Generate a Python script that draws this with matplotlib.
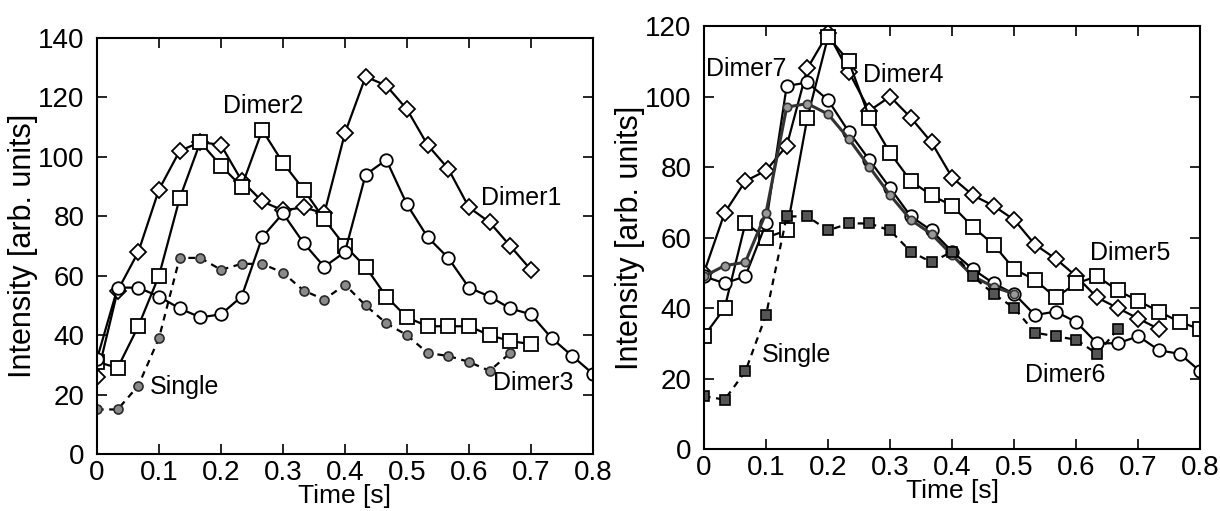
import numpy as np
import matplotlib.pyplot as plt

plt.rcParams['font.family'] = ['Liberation Sans', 'DejaVu Sans']

# 時間軸: 1/30 s ごと
dt = 1.0 / 30

# 左のグラフ
dimer1 = [26, 55, 68, 89, 102, 105, 104, 92, 85, 82, 83, 81, 108, 127, 124, 116,
          104, 96, 83, 78, 70, 62]
dimer2 = [31, 29, 43, 60, 86, 105, 97, 90, 109, 98, 89, 79, 70, 63, 53, 46, 43, 43,
          43, 40, 38, 37]
dimer3 = [32, 56, 56, 53, 49, 46, 47, 53, 73, 81, 71, 63, 68, 94, 99, 84, 73, 66,
          56, 53, 49, 47, 39, 33, 27]
single = [15, 15, 23, 39, 66, 66, 62, 64, 64, 61, 55, 52, 57, 50, 44, 40, 34, 33,
          31, 28, 34]

# 右のグラフ
dimer4 = [50, 67, 76, 79, 86, 108, 118, 107, 96, 100, 94, 87, 77, 72, 69, 65, 58,
          54, 49, 43, 40, 37, 34]
dimer5 = [32, 40, 64, 60, 62, 94, 117, 110, 94, 84, 76, 72, 69, 63, 58, 51, 48, 43,
          47, 49, 45, 42, 39, 36, 34]
dimer6 = [49, 47, 49, 64, 103, 104, 99, 90, 82, 74, 66, 62, 56, 51, 47, 44, 38, 39,
          36, 30, 30, 32, 28, 27, 22]
dimer7 = [49, 52, 53, 67, 97, 98, 95, 88, 80, 72, 65, 61, 55, 49, 46, 44]
single_r = [15, 14, 22, 38, 66, 66, 62, 64, 64, 62, 56, 53, 56, 49, 44, 40, 33, 32,
            31, 27, 34]

xticks = [0, 0.1, 0.2, 0.3, 0.4, 0.5, 0.6, 0.7, 0.8]
xticklabels = ['0', '0.1', '0.2', '0.3', '0.4', '0.5', '0.6', '0.7', '0.8']


def tt(v):
    return np.arange(len(v)) * dt


fs = 18
fig = plt.figure(figsize=(12.2, 5.11), dpi=100)
ax1 = fig.add_axes([0.0795, 0.1115, 0.4065, 0.8141])
ax2 = fig.add_axes([0.577, 0.1213, 0.407, 0.8277])

lw = 1.6
ax1.plot(tt(dimer1), dimer1, '-', color='k', lw=lw, marker='D', ms=8, mfc='white', mec='k', mew=1.3)
ax1.plot(tt(dimer2), dimer2, '-', color='k', lw=lw, marker='s', ms=9.5, mfc='white', mec='k', mew=1.3)
ax1.plot(tt(dimer3), dimer3, '-', color='k', lw=lw, marker='o', ms=9, mfc='white', mec='k', mew=1.3)
ax1.plot(tt(single), single, '--', color='k', lw=lw, dashes=(3, 2.5), marker='o', ms=6.5,
         mfc='#8a8a8a', mec='#2a2a2a', mew=1.2)

ax2.plot(tt(dimer4), dimer4, '-', color='k', lw=lw, marker='D', ms=8, mfc='white', mec='k', mew=1.3)
ax2.plot(tt(dimer5), dimer5, '-', color='k', lw=lw, marker='s', ms=9.5, mfc='white', mec='k', mew=1.3)
ax2.plot(tt(dimer6), dimer6, '-', color='k', lw=lw, marker='o', ms=9, mfc='white', mec='k', mew=1.3)
ax2.plot(tt(dimer7), dimer7, '-', color='#333333', lw=lw + 0.6, marker='o', ms=6,
         mfc='#999999', mec='#333333', mew=1.2)
ax2.plot(tt(single_r), single_r, '--', color='k', lw=lw, dashes=(3, 2.5), marker='s', ms=7,
         mfc='#555555', mec='k', mew=1.2)

ax1.text(0.268, 117, 'Dimer2', fontsize=fs, ha='center', va='center')
ax1.text(0.62, 86, 'Dimer1', fontsize=fs, ha='left', va='center')
ax1.text(0.086, 22.4, 'Single', fontsize=fs, ha='left', va='center')
ax1.text(0.639, 24, 'Dimer3', fontsize=fs, ha='left', va='center')

ax2.text(0.004, 107.7, 'Dimer7', fontsize=fs, ha='left', va='center')
ax2.text(0.256, 106, 'Dimer4', fontsize=fs, ha='left', va='center')
ax2.text(0.622, 55.5, 'Dimer5', fontsize=fs, ha='left', va='center')
ax2.text(0.518, 21, 'Dimer6', fontsize=fs, ha='left', va='center')
ax2.text(0.094, 26.7, 'Single', fontsize=fs, ha='left', va='center')

for ax, ymax in [(ax1, 140), (ax2, 120)]:
    ax.set_xlim(0, 0.8)
    ax.set_ylim(0, ymax)
    ax.set_xticks(xticks)
    ax.set_xticklabels(xticklabels)
    ax.set_yticks(np.arange(0, ymax + 1, 20))
    ax.tick_params(direction='in', length=7, width=1.2, top=True, right=True,
                   labelsize=20)
    ax.tick_params(axis='x', pad=4)
    ax.tick_params(axis='y', pad=9)
    for s in ax.spines.values():
        s.set_linewidth(1.5)
    ax.set_xlabel('Time [s]', fontsize=19, labelpad=-1)
    ax.set_ylabel('Intensity [arb. units]', fontsize=22, labelpad=0)

fig.savefig('out.png', dpi=100)
